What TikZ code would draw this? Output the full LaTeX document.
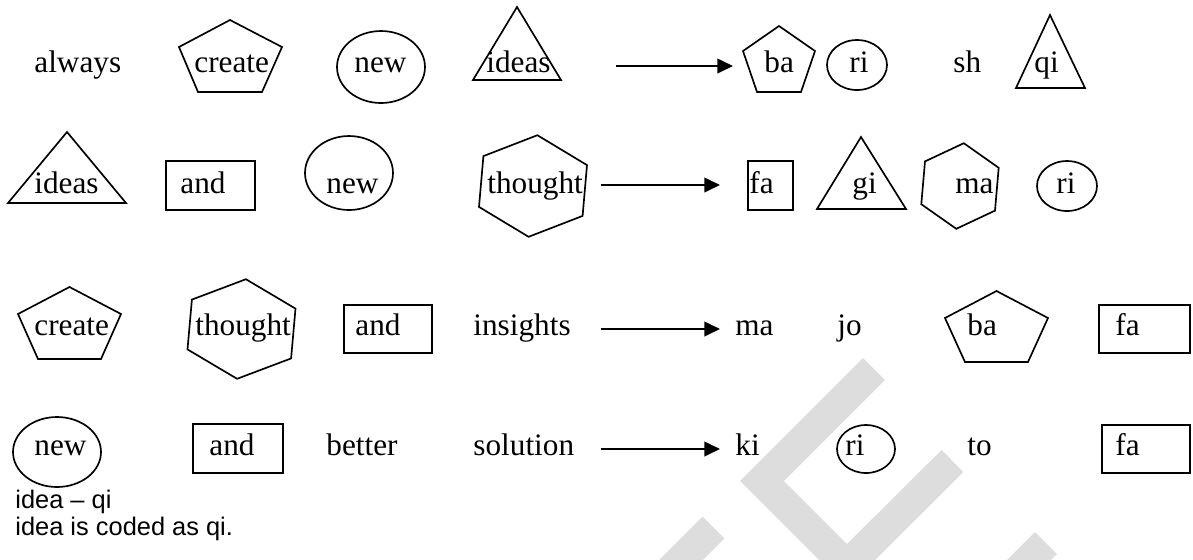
\documentclass[tikz,border=0pt]{standalone}
\usepackage{fontspec}
\setmainfont{Liberation Serif}
\newfontfamily\notefont{Liberation Sans}
\usetikzlibrary{arrows.meta}
\definecolor{wmgray}{RGB}{221,221,221}
\tikzset{
  word/.style={font=\fontsize{15}{18}\selectfont, inner sep=0pt, anchor=base west},
  note/.style={font=\notefont\fontsize{12.2}{14}\selectfont, inner sep=0pt, anchor=base west},
  outline/.style={draw=black, line width=0.8pt, line join=miter},
  conn/.style={line width=0.9pt, -{Triangle[length=7.5pt,width=7pt]}},
  wmark/.style={draw=wmgray, line width=14.9pt, line cap=butt, line join=miter},
}
\begin{document}
\begin{tikzpicture}[x=0.48pt,y=-0.48pt]
\useasboundingbox (0,0) rectangle (1193,559);

% light grey background mark
\begin{scope}
  \clip (0,0) rectangle (1193,559);
  \draw[wmark] (874,369) -- (762,481) -- (847,566) -- (952.5,461);
  \draw[wmark] (713.5,527.5) -- (663.5,577.5);
  \draw[wmark] (1046,543) -- (1016,573);
\end{scope}

% ---------- row 1 ----------
\draw[outline] (230,20) -- (282,47) -- (262,92) -- (198,92) -- (179,47) -- cycle;
\draw[outline] (381,67) ellipse [x radius=44, y radius=36];
\draw[outline] (517,7) -- (561,80) -- (473,80) -- cycle;
\draw[outline] (779,26) -- (815,51) -- (801,92) -- (757,92) -- (743,51) -- cycle;
\draw[outline] (857,65) ellipse [x radius=30, y radius=25];
\draw[outline] (1050,15) -- (1085,88) -- (1016,88) -- cycle;

\node[word] (r1w1) at (34,72) {always};
\node[word] (r1w2) at (194,72) {create};
\node[word] (r1w3) at (354,72) {new};
\node[word] (r1w4) at (486,72) {ideas};
\node[word] (r1c1) at (764,72) {ba};
\node[word] (r1c2) at (849,72) {ri};
\node[word] (r1c3) at (953,72) {sh};
\node[word] (r1c4) at (1034,72) {qi};

\coordinate (a1s) at (616,66);
\coordinate (a1e) at (733,66);
\draw[conn] (a1s) -- (a1e);

% ---------- row 2 ----------
\draw[outline] (67,132) -- (126,203) -- (8,203) -- cycle;
\draw[outline] (166,161) rectangle (255,210);
\draw[outline] (349,173) ellipse [x radius=44, y radius=37];
\draw[outline] (537.4,135.2) -- (587.0,165.1) -- (582.6,215.9) -- (528.6,236.8)
  -- (479.0,206.9) -- (483.4,156.1) -- cycle;
\draw[outline] (748,161) rectangle (793,210);
\draw[outline] (861,137) -- (906,209) -- (817,209) -- cycle;
\draw[outline] (963.8,143.2) -- (998.7,167.8) -- (995.0,210.6) -- (956.3,228.8)
  -- (921.3,204.2) -- (925.0,161.4) -- cycle;
\draw[outline] (1067,186) ellipse [x radius=30, y radius=25];

\node[word] (r2w1) at (34,193) {ideas};
\node[word] (r2w2) at (180,193) {and};
\node[word] (r2w3) at (326,193) {new};
\node[word] (r2w4) at (487,193) {thought};
\node[word] (r2c1) at (749,193) {fa};
\node[word] (r2c2) at (852,193) {gi};
\node[word] (r2c3) at (955,193) {ma};
\node[word] (r2c4) at (1056,193) {ri};

\coordinate (a2s) at (601,185);
\coordinate (a2e) at (720,185);
\draw[conn] (a2s) -- (a2e);

% ---------- row 3 ----------
\draw[outline] (69.5,287) -- (121,314) -- (101,359) -- (38,359) -- (18,314) -- cycle;
\draw[outline] (245.9,279.2) -- (295.5,308.6) -- (291.1,358.4) -- (237.1,378.8)
  -- (187.5,349.4) -- (191.9,299.6) -- cycle;
\draw[outline] (344,305) rectangle (432,353);
\draw[outline] (996.5,291) -- (1048,318) -- (1028,362) -- (965,362) -- (945,318) -- cycle;
\draw[outline] (1099,305) rectangle (1190,353);

\node[word] (r3w1) at (34,335) {create};
\node[word] (r3w2) at (195,335) {thought};
\node[word] (r3w3) at (355,335) {and};
\node[word] (r3w4) at (473,335) {insights};
\node[word] (r3c1) at (735,335) {ma};
\node[word] (r3c2) at (837,335) {jo};
\node[word] (r3c3) at (967,335) {ba};
\node[word] (r3c4) at (1115,335) {fa};

\coordinate (a3s) at (601,329);
\coordinate (a3e) at (720,329);
\draw[conn] (a3s) -- (a3e);

% ---------- row 4 ----------
\draw[outline] (57,452) ellipse [x radius=44, y radius=35];
\draw[outline] (193,424) rectangle (283,473);
\draw[outline] (866,449) ellipse [x radius=29, y radius=24];
\draw[outline] (1102,425) rectangle (1190,473);

\node[word] (r4w1) at (34,455) {new};
\node[word] (r4w2) at (209,455) {and};
\node[word] (r4w3) at (326,455) {better};
\node[word] (r4w4) at (473,455) {solution};
\node[word] (r4c1) at (735,455) {ki};
\node[word] (r4c2) at (845,455) {ri};
\node[word] (r4c3) at (967,455) {to};
\node[word] (r4c4) at (1115,455) {fa};

\coordinate (a4s) at (601,449);
\coordinate (a4e) at (720,449);
\draw[conn] (a4s) -- (a4e);

% ---------- key ----------
\node[note] (key1) at (15,508) {idea – qi};
\node[note] (key2) at (15,535) {idea is coded as qi.};
\end{tikzpicture}
\end{document}
